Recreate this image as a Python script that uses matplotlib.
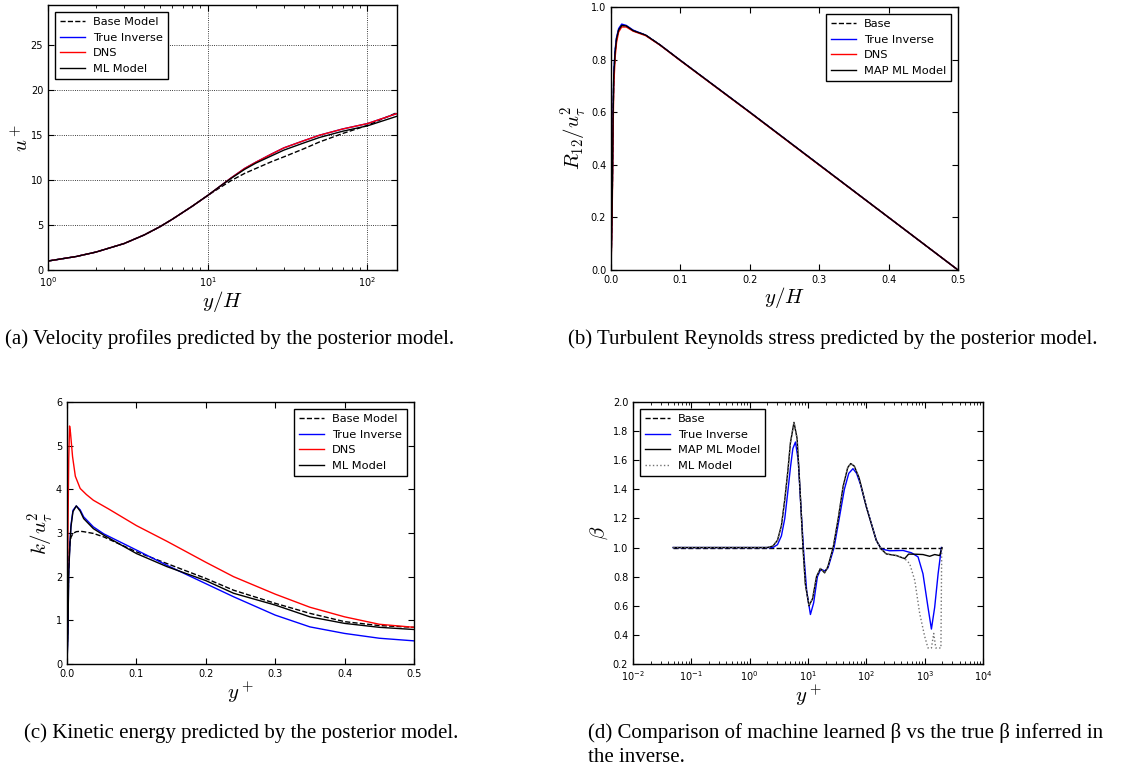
import matplotlib
matplotlib.use('Agg')
import matplotlib.pyplot as plt

# ---------- data ----------
# (a) velocity profiles
a_yH = [1, 1.5, 2, 3, 4, 5, 6, 8, 10, 12, 14, 17, 20, 25, 30, 40, 50, 70, 100, 152]
a_base = [1.0, 1.5, 2.0, 2.95, 3.9, 4.8, 5.65, 7.1, 8.3, 9.2, 9.95, 10.75, 11.3, 12.05, 12.6, 13.5, 14.25, 15.2, 16.1, 17.5]
a_true = [1.0, 1.5, 2.0, 2.95, 3.9, 4.8, 5.65, 7.1, 8.3, 9.35, 10.25, 11.3, 12.0, 12.9, 13.6, 14.4, 15.0, 15.7, 16.3, 17.4]
a_dns = [1.0, 1.5, 2.0, 2.95, 3.9, 4.8, 5.65, 7.1, 8.3, 9.35, 10.25, 11.3, 12.0, 12.9, 13.6, 14.4, 15.0, 15.7, 16.3, 17.4]
a_ml = [1.0, 1.5, 2.0, 2.95, 3.9, 4.8, 5.65, 7.1, 8.3, 9.35, 10.2, 11.2, 11.9, 12.7, 13.35, 14.15, 14.75, 15.45, 16.05, 17.1]

# (b) Reynolds stress
b_yH = [0, 0.001, 0.002, 0.003, 0.004, 0.006, 0.008, 0.011, 0.0154, 0.022, 0.032, 0.05, 0.0706, 0.1, 0.2, 0.3, 0.4, 0.5]
b_base = [0, 0.15, 0.32, 0.58, 0.74, 0.83, 0.88, 0.912, 0.93, 0.927, 0.91, 0.893, 0.856, 0.797, 0.6, 0.4, 0.2, 0.0]
b_true = [0, 0.16, 0.34, 0.6, 0.75, 0.84, 0.885, 0.918, 0.935, 0.93, 0.912, 0.893, 0.856, 0.797, 0.6, 0.4, 0.2, 0.0]
b_dns = [0, 0.12, 0.28, 0.52, 0.7, 0.81, 0.865, 0.905, 0.924, 0.924, 0.908, 0.891, 0.855, 0.796, 0.599, 0.399, 0.2, 0.0]
b_ml = [0, 0.15, 0.32, 0.58, 0.74, 0.83, 0.88, 0.912, 0.93, 0.928, 0.91, 0.893, 0.856, 0.797, 0.6, 0.4, 0.2, 0.0]

# (c) kinetic energy
c_y = [0, 0.0014, 0.0024, 0.004, 0.0057, 0.0086, 0.0134, 0.019, 0.024, 0.038, 0.053, 0.1, 0.144, 0.2, 0.24, 0.3, 0.35, 0.4, 0.45, 0.5]
c_base = [0, 1.2, 2.2, 2.76, 2.9, 2.99, 3.03, 3.04, 3.03, 2.99, 2.91, 2.57, 2.30, 1.96, 1.69, 1.39, 1.16, 0.97, 0.88, 0.84]
c_true = [0, 0.75, 2.1, 2.7, 3.18, 3.52, 3.62, 3.53, 3.37, 3.14, 2.98, 2.61, 2.26, 1.84, 1.54, 1.12, 0.85, 0.70, 0.59, 0.53]
c_ml = [0, 0.7, 2.07, 2.65, 3.14, 3.49, 3.62, 3.5, 3.33, 3.1, 2.95, 2.53, 2.23, 1.91, 1.62, 1.35, 1.08, 0.93, 0.84, 0.79]
c_y_dns = [0, 0.0008, 0.0015, 0.0025, 0.0037, 0.005, 0.008, 0.012, 0.019, 0.028, 0.038, 0.06, 0.1, 0.144, 0.2, 0.24, 0.3, 0.35, 0.4, 0.45, 0.5]
c_dns = [0, 1.6, 3.2, 4.7, 5.45, 5.3, 4.75, 4.3, 4.02, 3.88, 3.75, 3.55, 3.17, 2.81, 2.33, 2.0, 1.6, 1.3, 1.08, 0.91, 0.84]

# (d) beta
d_base_y = [0.049, 2000]
d_base = [1.0, 1.0]
d_true_y = [0.049, 0.1, 0.5, 1.0, 2.0, 2.5, 3.0, 3.5, 4.0, 4.5, 5.0, 5.5, 6.1, 6.8, 7.5, 8.5, 9.5, 11.0, 12.5,
            14.5, 16.5, 19.5, 22, 28, 35, 42, 50, 59, 68, 80, 100, 148, 180, 250, 427, 593, 770, 935, 1140,
            1305, 1485, 1700, 1937]
d_true = [1.0, 1.0, 1.0, 1.0, 1.0, 1.0, 1.02, 1.08, 1.2, 1.38, 1.55, 1.68, 1.725, 1.6, 1.3, 0.95, 0.7, 0.54, 0.62,
          0.8, 0.85, 0.84, 0.86, 1.0, 1.22, 1.4, 1.51, 1.542, 1.51, 1.43, 1.28, 1.05, 0.99, 0.978, 0.98, 0.964,
          0.936, 0.82, 0.59, 0.44, 0.59, 0.82, 1.0]
d_map_y = [0.049, 0.1, 0.5, 1.0, 2.0, 2.5, 3.0, 3.5, 4.0, 4.5, 5.0, 5.75, 6.5, 7.3, 8.2, 9.0, 10.4, 12.0, 14.0,
           16.3, 19.3, 22, 27, 33, 40, 48, 54, 62, 75, 100, 148, 180, 220, 328, 454, 530, 725, 935, 1220,
           1485, 1807, 1980]
d_map = [1.0, 1.0, 1.0, 1.0, 1.0, 1.01, 1.05, 1.15, 1.33, 1.52, 1.72, 1.86, 1.75, 1.4, 1.0, 0.75, 0.6, 0.65, 0.8,
         0.856, 0.826, 0.87, 1.0, 1.2, 1.42, 1.55, 1.577, 1.56, 1.48, 1.28, 1.05, 0.99, 0.956, 0.945, 0.924,
         0.955, 0.954, 0.952, 0.94, 0.952, 0.945, 1.0]
d_ml_y = [0.049, 0.1, 0.5, 1.0, 2.0, 2.5, 3.0, 3.5, 4.0, 4.5, 5.0, 5.75, 6.5, 7.3, 8.2, 9.0, 10.4, 12.0, 14.0,
          16.3, 19.3, 22, 27, 33, 40, 48, 54, 62, 75, 100, 148, 180, 220, 328, 454, 553, 676, 822, 1000,
          1140, 1305, 1430, 1550, 1807, 1900, 1960]
d_ml = [1.0, 1.0, 1.0, 1.0, 1.0, 1.01, 1.05, 1.15, 1.33, 1.52, 1.72, 1.86, 1.75, 1.4, 1.0, 0.75, 0.6, 0.65, 0.8,
        0.856, 0.826, 0.87, 1.0, 1.2, 1.42, 1.55, 1.577, 1.56, 1.48, 1.28, 1.05, 0.99, 0.956, 0.945, 0.924,
        0.89, 0.775, 0.547, 0.39, 0.31, 0.31, 0.41, 0.31, 0.31, 0.31, 1.0]

captions = ["(a) Velocity profiles predicted by the posterior model.",
            "(b) Turbulent Reynolds stress predicted by the posterior model.",
            "(c) Kinetic energy predicted by the posterior model.",
            "(d) Comparison of machine learned \u03b2 vs the true \u03b2 inferred in\nthe inverse."]

# ---------- style ----------
plt.rcParams['font.family'] = 'DejaVu Sans'
plt.rcParams['mathtext.fontset'] = 'dejavusans'
plt.rcParams['xtick.direction'] = 'in'
plt.rcParams['ytick.direction'] = 'in'
plt.rcParams['xtick.top'] = True
plt.rcParams['ytick.right'] = True
plt.rcParams['xtick.labelsize'] = 7
plt.rcParams['ytick.labelsize'] = 7
plt.rcParams['xtick.major.size'] = 4
plt.rcParams['ytick.major.size'] = 4
plt.rcParams['xtick.minor.size'] = 2
plt.rcParams['ytick.minor.size'] = 2
plt.rcParams['axes.linewidth'] = 1.0
plt.rcParams['lines.linewidth'] = 1.0

W, H = 1128, 768
fig = plt.figure(figsize=(W / 100, H / 100), dpi=100)


def box(left, right, top, bottom):
    return [left / W, 1 - bottom / H, (right - left) / W, (bottom - top) / H]


def legend(ax, loc):
    leg = ax.legend(loc=loc, fontsize=8.2, fancybox=False, framealpha=1,
                    edgecolor='black', borderaxespad=0.6, handlelength=2.2,
                    handletextpad=0.7, labelspacing=0.5, borderpad=0.45)
    leg.get_frame().set_linewidth(1.0)


def labels(ax, xl, yl, xpad=2, ypad=2):
    ax.set_xlabel(xl, fontsize=15, math_fontfamily='cm', labelpad=xpad)
    ax.set_ylabel(yl, fontsize=15, math_fontfamily='cm', labelpad=ypad)


# (a)
ax = fig.add_axes(box(48, 397, 5, 270))
ax.plot(a_yH, a_base, 'k--', label='Base Model')
ax.plot(a_yH, a_true, color='blue', label='True Inverse')
ax.plot(a_yH, a_dns, color='red', label='DNS')
ax.plot(a_yH, a_ml, color='black', label='ML Model')
ax.set_xscale('log')
ax.set_xlim(1, 153)
ax.set_ylim(0, 29.5)
ax.set_yticks([0, 5, 10, 15, 20, 25])
ax.grid(True, which='major', linestyle=':', color='black', linewidth=0.6)
labels(ax, '$y/H$', '$u^+$', xpad=0, ypad=-1)
legend(ax, 'upper left')

# (b)
ax = fig.add_axes(box(611, 958, 7, 270))
ax.plot(b_yH, b_base, 'k--', label='Base')
ax.plot(b_yH, b_true, color='blue', label='True Inverse')
ax.plot(b_yH, b_dns, color='red', label='DNS')
ax.plot(b_yH, b_ml, color='black', label='MAP ML Model')
ax.set_xlim(0, 0.5)
ax.set_ylim(0, 1.0)
labels(ax, '$y/H$', '$R_{12}/u_\\tau^2$', xpad=0, ypad=1)
legend(ax, 'upper right')

# (c)
ax = fig.add_axes(box(67, 414, 402, 664))
ax.plot(c_y, c_base, 'k--', label='Base Model')
ax.plot(c_y, c_true, color='blue', label='True Inverse')
ax.plot(c_y_dns, c_dns, color='red', label='DNS')
ax.plot(c_y, c_ml, color='black', label='ML Model')
ax.set_xlim(0, 0.5)
ax.set_ylim(0, 6)
labels(ax, '$y^+$', '$k/u_\\tau^2$', xpad=1, ypad=0)
legend(ax, 'upper right')

# (d)
ax = fig.add_axes(box(633, 983, 402, 664))
ax.plot(d_base_y, d_base, 'k--', label='Base')
ax.plot(d_true_y, d_true, color='blue', label='True Inverse')
ax.plot(d_map_y, d_map, color='black', label='MAP ML Model')
ax.plot(d_ml_y, d_ml, linestyle=':', color='0.45', label='ML Model')
ax.set_xscale('log')
ax.set_xlim(1e-2, 1e4)
ax.set_ylim(0.2, 2.0)
ax.set_yticks([0.2, 0.4, 0.6, 0.8, 1.0, 1.2, 1.4, 1.6, 1.8, 2.0])
labels(ax, '$y^+$', '$\\beta$', xpad=0, ypad=2)
legend(ax, 'upper left')

# captions (one text per line so the spacing can follow the reference)
cap_pos = [(5, 339), (568, 339), (24, 733), (588, 733)]
for (x, y), txt in zip(cap_pos, captions):
    for i, line in enumerate(txt.split('\n')):
        fig.text(x / W, 1 - (y + 24 * i) / H, line, fontsize=15,
                 family='Liberation Serif', va='center', ha='left')

fig.savefig('out.png', dpi=100)
